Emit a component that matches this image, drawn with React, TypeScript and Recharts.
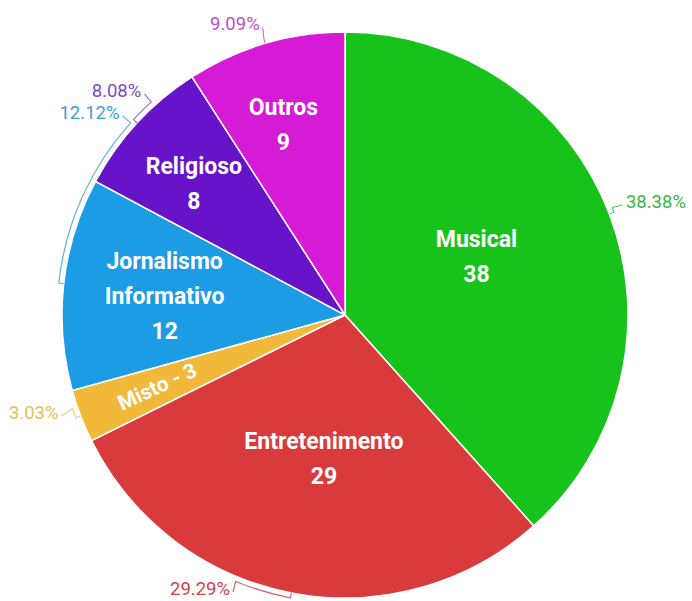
import React from 'react';
import { PieChart, Pie, Cell } from 'recharts';

const categories = ['Musical', 'Entretenimento', 'Misto', 'Jornalismo Informativo', 'Religioso', 'Outros'];
const counts = [38, 29, 3, 12, 8, 9];
const colors = ['#17c31b', '#d93a3b', '#f1b83a', '#1c9ce4', '#6713c9', '#d51bd5'];
const textColors = ['#3fb43f', '#c9454a', '#e3c05e', '#3f9fcf', '#7b4cc0', '#c04dc8'];
// how far (degrees) each percentage label is moved away from its slice middle
const labelShift = [1, -11.4, -2, -35.5, -5, 0];
// small turn (degrees) of the inside labels
const innerShift = [3.5, 2.5, 0, 0, 1.5, 1.5];

const data = categories.map((name, i) => ({ name, value: counts[i] }));

const RAD = Math.PI / 180;
const pt = (cx: number, cy: number, r: number, a: number) => [cx + r * Math.cos(a * RAD), cy - r * Math.sin(a * RAD)];

const FONT = 'Roboto, "Noto Sans", sans-serif';

function renderLabel(props: any) {
  const { cx, cy, midAngle, outerRadius, percent, index, name, value } = props;
  const R = outerRadius;
  const pct = percent * 100;

  // inside label
  const f = Math.min(0.71, Math.max(0.51, 0.92 - 0.023 * pct));
  const [ix, iy] = pt(cx, cy, R * f, midAngle + innerShift[index]);
  let inner: React.ReactNode;
  if (pct < 5) {
    const rot = -(midAngle + 180) - 4;
    inner = (
      <text x={ix} y={iy} fill="#fff" fontFamily={FONT} fontWeight={700} fontSize={21}
        textAnchor="middle" dominantBaseline="central" transform={`rotate(${rot} ${ix} ${iy})`}>
        {`${name} - ${value}`}
      </text>
    );
  } else {
    const lines = [...name.split(' '), String(value)];
    const lh = 35;
    const y0 = iy - ((lines.length - 1) * lh) / 2 + 1;
    inner = (
      <text fill="#fff" fontFamily={FONT} fontWeight={700} fontSize={23} textAnchor="middle" dominantBaseline="central">
        {lines.map((l, k) => (
          <tspan key={k} x={ix} y={y0 + k * lh}>{l}</tspan>
        ))}
      </text>
    );
  }

  // outside percentage label with bracket connector
  const a = midAngle + labelShift[index];
  const rc = R + 5;
  const [sx, sy] = pt(cx, cy, R, midAngle);
  const [mx, my] = pt(cx, cy, rc, midAngle);
  const [ex, ey] = pt(cx, cy, rc, a);
  let [tx, ty] = pt(cx, cy, R * 1.07, a);
  ty = Math.min(ty, 589);
  const right = Math.cos(a * RAD) > 0;
  const sweep = a < midAngle ? 1 : 0;
  const d = `M${sx},${sy} L${mx},${my} A${rc},${rc} 0 0 ${sweep} ${ex},${ey} L${tx + (right ? -3 : 3)},${ty + 3}`;

  return (
    <g>
      {inner}
      <path d={d} fill="none" stroke={textColors[index]} strokeOpacity={0.8} strokeWidth={1.2} />
      <text x={tx} y={ty} fill={textColors[index]} fontFamily={FONT} fontSize={18.5}
        textAnchor={right ? 'start' : 'end'} dominantBaseline="central">
        {`${pct.toFixed(2)}%`}
      </text>
    </g>
  );
}

export default function App() {
  return (
    <div style={{ position: 'absolute', left: 0, top: 0, width: 692, height: 601, background: '#fff' }}>
      <PieChart width={692} height={601} margin={{ top: 0, right: 0, bottom: 0, left: 0 }}>
        <Pie
          data={data}
          dataKey="value"
          nameKey="name"
          cx={345}
          cy={315}
          outerRadius={283}
          startAngle={90}
          endAngle={-270}
          stroke="#fff"
          strokeWidth={1.5}
          label={renderLabel}
          labelLine={false}
          isAnimationActive={false}
        >
          {data.map((_, i) => (
            <Cell key={i} fill={colors[i]} />
          ))}
        </Pie>
      </PieChart>
    </div>
  );
}
